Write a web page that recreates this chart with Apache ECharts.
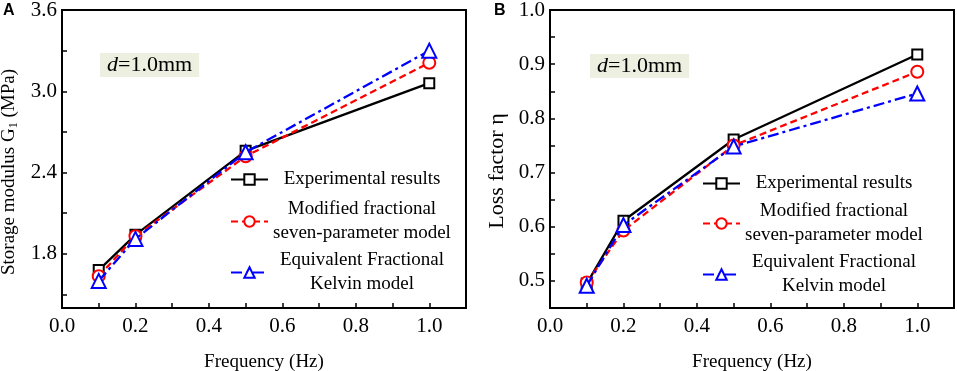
<!DOCTYPE html>
<html>
<head>
<meta charset="utf-8">
<script src="https://cdn.jsdelivr.net/npm/echarts@6/dist/echarts.min.js"></script>
<style>
  html, body { margin: 0; padding: 0; background: #fff; }
  #chart { width: 957px; height: 371px; }
</style>
</head>
<body>
<div id="chart"></div>
<script>
// data
var freq = [0.1, 0.2, 0.5, 1.0];
var storageExp = [1.68, 1.94, 2.56, 3.06];
var storageMod = [1.635, 1.93, 2.52, 3.21];
var storageEqv = [1.60, 1.91, 2.55, 3.30];
var lossExp = [0.495, 0.611, 0.761, 0.918];
var lossMod = [0.497, 0.593, 0.750, 0.886];
var lossEqv = [0.491, 0.603, 0.748, 0.846];

var xLabels = [0.0, 0.2, 0.4, 0.6, 0.8, 1.0];
var xTicks = [0.1, 0.2, 0.3, 0.4, 0.5, 0.6, 0.7, 0.8, 0.9, 1.0];
var storageLabels = [1.8, 2.4, 3.0, 3.6];
var storageTicks = [1.5, 1.8, 2.1, 2.4, 2.7, 3.0, 3.3, 3.6];
var lossLabels = [0.5, 0.6, 0.7, 0.8, 0.9, 1.0];
var lossTicks = [0.5, 0.55, 0.6, 0.65, 0.7, 0.75, 0.8, 0.85, 0.9, 0.95, 1.0];

var seriesNames = [
  "Experimental results",
  "Modified fractional\nseven-parameter model",
  "Equivalent Fractional\nKelvin model",
];

var serif = "Liberation Serif";

function pairs(ys) {
  return freq.map(function (x, i) { return [x, ys[i]]; });
}

function makeXAxis(idx) {
  return {
    type: "value",
    gridIndex: idx,
    min: 0,
    max: 1.1,
    name: "Frequency (Hz)",
    nameLocation: "middle",
    nameGap: 45,
    nameTextStyle: { fontFamily: serif, fontSize: 19, color: "#000" },
    axisLine: { show: true, lineStyle: { color: "#000", width: 2 } },
    axisTick: { show: true, inside: true, length: 5, customValues: xTicks, lineStyle: { color: "#000", width: 1.5 } },
    axisLabel: {
      customValues: xLabels,
      margin: 8,
      fontFamily: serif,
      fontSize: 21,
      color: "#000",
      formatter: function (v) { return v.toFixed(1); },
    },
    splitLine: { show: false },
  };
}

function legendFor(idx, left, top) {
  return {
    left: left,
    top: top,
    padding: 0,
    itemWidth: 37,
    itemHeight: 13,
    selectedMode: false,
    data: [seriesNames[idx]],
    formatter: function (name) {
      return name.split("\n").map(function (s) { return "{t|" + s + "}"; }).join("\n");
    },
    textStyle: {
      rich: {
        t: { fontFamily: serif, fontSize: 19, color: "#000", width: 178, align: "center", lineHeight: 24 },
      },
    },
  };
}

var styles = [
  { color: "#000", symbol: "emptyRect", size: 10, type: "solid" },
  { color: "#ff0000", symbol: "emptyCircle", size: 12, type: [7, 4] },
  { color: "#0000ff", symbol: "emptyTriangle", size: 14, type: [11, 4, 3, 4] },
];

function makeSeries(gridIdx, sets) {
  return sets.map(function (ys, i) {
    var s = styles[i];
    return {
      name: seriesNames[i],
      type: "line",
      xAxisIndex: gridIdx,
      yAxisIndex: gridIdx,
      data: pairs(ys),
      symbol: s.symbol,
      symbolSize: s.size,
      color: s.color,
      lineStyle: { color: s.color, width: 2.3, type: s.type },
      itemStyle: { color: s.color, borderColor: s.color, borderWidth: 1.8 },
      z: 2 + i,
    };
  });
}

var dBox = {
  text: "{i|d}=1.0mm",
  textStyle: {
    fontFamily: serif,
    fontSize: 22,
    fontWeight: "normal",
    color: "#000",
    rich: { i: { fontFamily: serif, fontSize: 22, fontStyle: "italic", color: "#000" } },
  },
  backgroundColor: "#edf0e1",
  padding: [1, 7, 1, 7],
};

var panelLabel = { fontFamily: "Liberation Sans", fontSize: 16, fontWeight: "bold", color: "#000" };

var chart = echarts.init(document.getElementById("chart"));
chart.setOption({
  animation: false,
  title: [
    Object.assign({ left: 100, top: 53 }, dBox),
    Object.assign({ left: 590, top: 54 }, dBox),
    { text: "A", left: 3, top: 3, padding: 0, textStyle: panelLabel },
    { text: "B", left: 494, top: 3, padding: 0, textStyle: panelLabel },
  ],
  legend: [
    legendFor(0, 230, 170),
    legendFor(1, 230, 200),
    legendFor(2, 230, 251),
    legendFor(0, 702, 174),
    legendFor(1, 702, 202),
    legendFor(2, 702, 253),
  ],
  grid: [
    { left: 62, right: 491, top: 10, bottom: 63, outerBoundsMode: "none", show: true, borderColor: "#000", borderWidth: 2 },
    { left: 550, right: 3, top: 10, bottom: 63, outerBoundsMode: "none", show: true, borderColor: "#000", borderWidth: 2 },
  ],
  xAxis: [makeXAxis(0), makeXAxis(1)],
  yAxis: [
    {
      type: "value",
      gridIndex: 0,
      min: 1.4,
      max: 3.6,
      name: "Storage modulus G{sub|1} (MPa)",
      nameLocation: "middle",
      nameGap: 42,
      nameTextStyle: {
        fontFamily: serif,
        fontSize: 19,
        color: "#000",
        padding: [0, 26, 0, 0],
        rich: { sub: { fontFamily: serif, fontSize: 12, color: "#000", padding: [10, 0, 0, 0] } },
      },
      axisLine: { show: true, lineStyle: { color: "#000", width: 2 } },
      axisTick: { show: true, inside: true, length: 5, customValues: storageTicks, lineStyle: { color: "#000", width: 1.5 } },
      axisLabel: {
        customValues: storageLabels,
        margin: 5,
        fontFamily: serif,
        fontSize: 21,
        color: "#000",
        formatter: function (v) { return v.toFixed(1); },
      },
      splitLine: { show: false },
    },
    {
      type: "value",
      gridIndex: 1,
      min: 0.45,
      max: 1.0,
      name: "Loss factor η",
      nameLocation: "middle",
      nameGap: 42,
      nameTextStyle: { fontFamily: serif, fontSize: 22, color: "#000", padding: [0, 24, 0, 0] },
      axisLine: { show: true, lineStyle: { color: "#000", width: 2 } },
      axisTick: { show: true, inside: true, length: 5, customValues: lossTicks, lineStyle: { color: "#000", width: 1.5 } },
      axisLabel: {
        customValues: lossLabels,
        margin: 5,
        fontFamily: serif,
        fontSize: 21,
        color: "#000",
        formatter: function (v) { return v.toFixed(1); },
      },
      splitLine: { show: false },
    },
  ],
  series: makeSeries(0, [storageExp, storageMod, storageEqv]).concat(
    makeSeries(1, [lossExp, lossMod, lossEqv])
  ),
});
</script>
</body>
</html>
